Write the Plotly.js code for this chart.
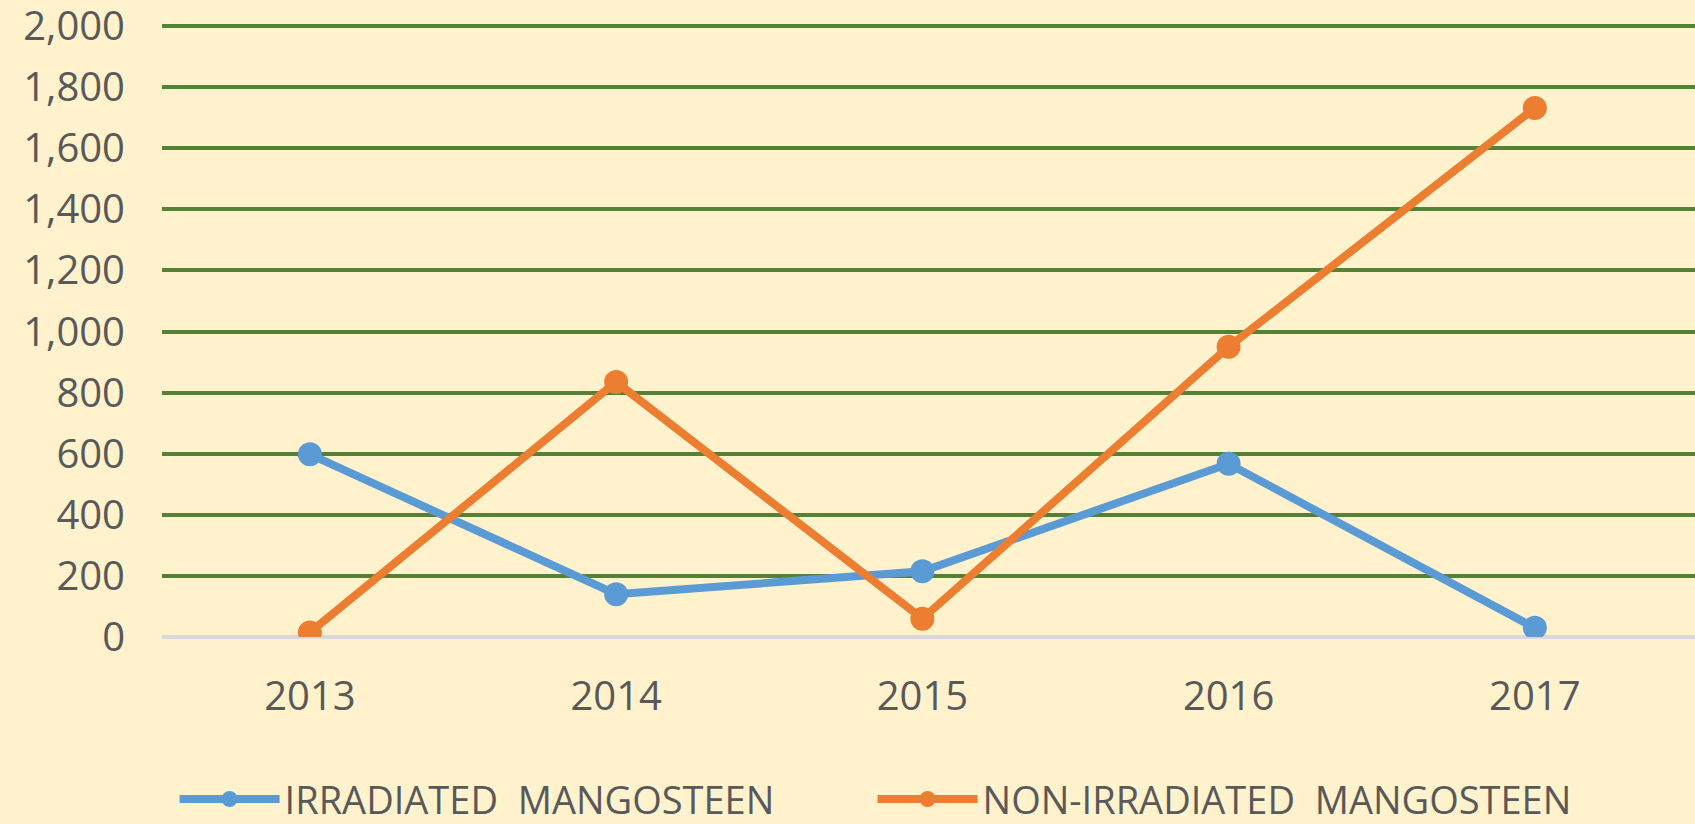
<!DOCTYPE html>
<html>
<head>
<meta charset="utf-8">
<script src="https://cdn.plot.ly/plotly-3.0.1.min.js"></script>
<style>html,body{margin:0;padding:0;background:#FFF2CC;}#chart{width:1695px;height:824px;}</style>
</head>
<body>
<div id="chart"></div>
<script>
const years = ["2013", "2014", "2015", "2016", "2017"];
const irradiated = [598, 140, 215, 567, 30];
const nonIrradiated = [15, 835, 60, 950, 1732];
const seriesNames = ["IRRADIATED  MANGOSTEEN", "NON-IRRADIATED  MANGOSTEEN"];
const yTicks = [0, 200, 400, 600, 800, 1000, 1200, 1400, 1600, 1800, 2000];

const textColor = "#595959";
const traces = [
  {
    x: years, y: irradiated, name: seriesNames[0], type: "scatter", mode: "lines+markers",
    line: {color: "#5B9BD5", width: 8}, marker: {color: "#5B9BD5", size: 24}
  },
  {
    x: years, y: nonIrradiated, name: seriesNames[1], type: "scatter", mode: "lines+markers",
    line: {color: "#ED7D31", width: 8}, marker: {color: "#ED7D31", size: 24}
  }
];

const layout = {
  width: 1695, height: 824,
  paper_bgcolor: "#FFF2CC", plot_bgcolor: "#FFF2CC",
  margin: {l: 162, r: 0, t: 24, b: 187},
  font: {family: "Open Sans, sans-serif", color: textColor, size: 40},
  xaxis: {
    type: "category", range: [-0.483, 4.523], showgrid: false, zeroline: false,
    showline: false, ticks: "", tickfont: {size: 40, color: textColor},
    ticklabelstandoff: 32
  },
  yaxis: {
    range: [0, 2007], tickvals: yTicks, tickformat: ",d",
    showgrid: true, gridcolor: "#548235", gridwidth: 4,
    zeroline: true, zerolinecolor: "#D9D9D9", zerolinewidth: 4,
    showline: false, ticks: "", tickfont: {size: 40, color: textColor},
    ticklabelstandoff: 36, ticklabeloverflow: "allow"
  },
  showlegend: true,
  legend: {
    orientation: "h", xref: "container", yref: "container",
    x: 0.103, xanchor: "left", y: 0.03, yanchor: "middle",
    font: {size: 38, color: textColor}, bgcolor: "rgba(0,0,0,0)",
    entrywidth: 583, entrywidthmode: "pixels", itemwidth: 100
  }
};

Plotly.newPlot("chart", traces, layout, {displayModeBar: false, staticPlot: true});
</script>
</body>
</html>
